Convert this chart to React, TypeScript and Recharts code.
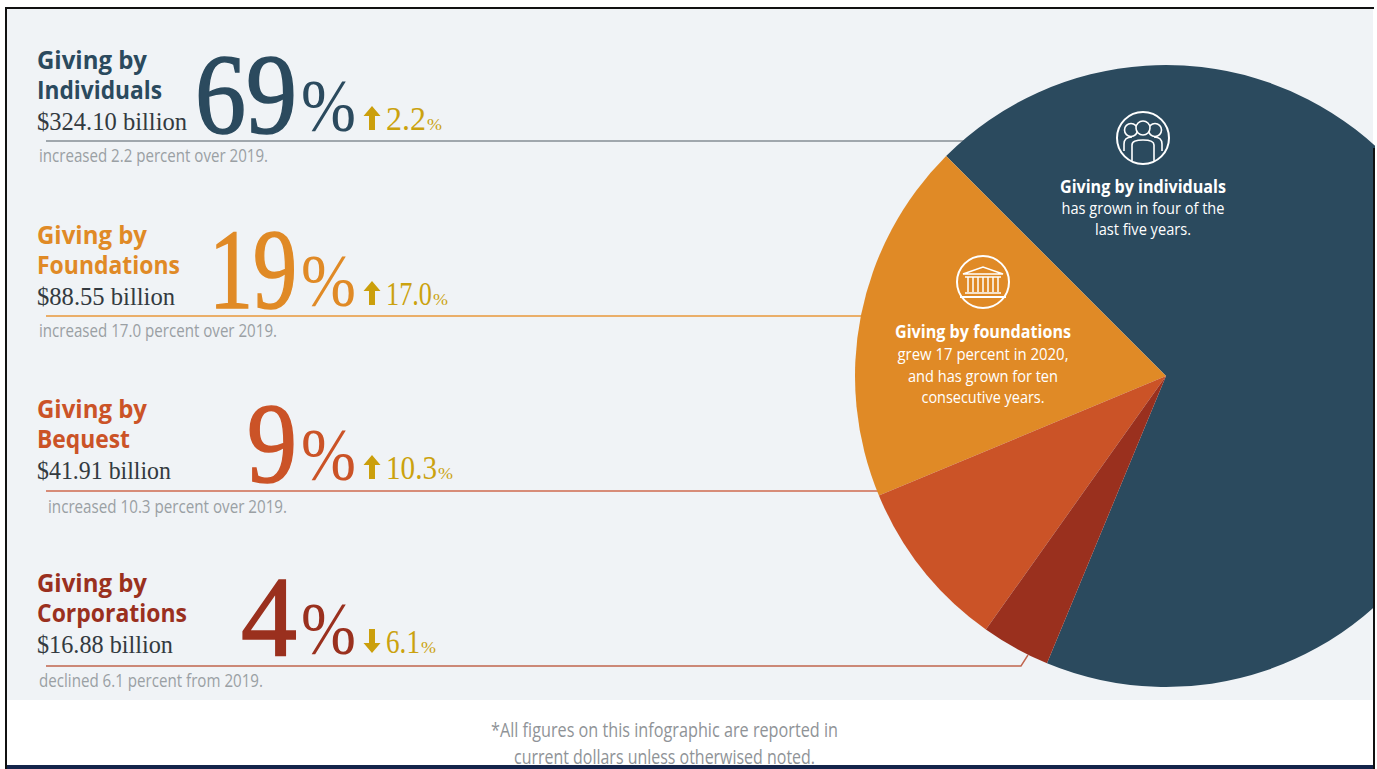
import React from "react";
import { PieChart, Pie, Cell } from "recharts";

// Giving by source, 2020
const sources = ["Individuals", "Foundations", "Bequest", "Corporations"];
const billions = [324.1, 88.55, 41.91, 16.88];
const amountLabels = ["$324.10 billion", "$88.55 billion", "$41.91 billion", "$16.88 billion"];
const shareLabels = ["69", "19", "9", "4"];
const changeLabels = ["2.2", "17.0", "10.3", "6.1"];
const changeUp = [true, true, true, false];
const notes = [
  "increased 2.2 percent over 2019.",
  "increased 17.0 percent over 2019.",
  "increased 10.3 percent over 2019.",
  "declined 6.1 percent from 2019.",
];
const individualsCallout = ["Giving by individuals", "has grown in four of the", "last five years."];
const foundationsCallout = ["Giving by foundations", "grew 17 percent in 2020,", "and has grown for ten", "consecutive years."];
const footnote = ["*All figures on this infographic are reported in", "current dollars unless otherwised noted."];

const W = 1377;
const H = 769;
const colors = ["#2b4a5e", "#e08a26", "#cb5327", "#9a301e"];
const ruleColors = ["#868e94", "#e8973a", "#cf6a4e", "#c0654e"];
const GOLD = "#cba20e";
const SANS = "'Open Sans', sans-serif";
const SERIF = "'Liberation Serif', serif";

const rows = [
  { y: 69, ruleY: 141, ruleEnd: 965, nameW: 125, amtW: 150, bigX: 195, bigW: 102, chgW: 40, noteX: 39, noteW: 229, noteY: 162 },
  { y: 244, ruleY: 316, ruleEnd: 870, nameW: 143, amtW: 138, bigX: 209, bigW: 88, chgW: 46, noteX: 39, noteW: 238, noteY: 337 },
  { y: 418, ruleY: 491, ruleEnd: 880, nameW: 93, amtW: 134, bigX: 247, bigW: 50, chgW: 51, noteX: 48, noteW: 239, noteY: 513 },
  { y: 592, ruleY: 666, ruleEnd: 1021, nameW: 150, amtW: 136, bigX: 241, bigW: 56, chgW: 34, noteX: 39, noteW: 224, noteY: 687 },
];

const pieRows = sources.map((name, i) => ({ name, value: billions[i] }));

function Fit(props: any) {
  const { w, children, ...rest } = props;
  return (
    <text textLength={w} lengthAdjust="spacingAndGlyphs" {...rest}>
      {children}
    </text>
  );
}

function Arrow({ up }: { up: boolean }) {
  // Drawn around the origin, pointing up; flipped for a decline.
  return (
    <g transform={up ? undefined : "scale(1,-1)"}>
      <path d="M0,-12 L8.5,-2 L3,-2 L3,12 L-3,12 L-3,-2 L-8.5,-2 Z" fill="#cb9f0c" />
    </g>
  );
}

function Row({ i }: { i: number }) {
  const r = rows[i];
  const c = colors[i];
  const base = r.y + 61;
  return (
    <g>
      <Fit x={37} y={r.y} w={110} fontFamily={SANS} fontWeight={700} fontSize={25} fill={c}>Giving by</Fit>
      <Fit x={37} y={r.y + 30} w={r.nameW} fontFamily={SANS} fontWeight={700} fontSize={25} fill={c}>{sources[i]}</Fit>
      <Fit x={37} y={base} w={r.amtW} fontFamily={SERIF} fontSize={26} fill="#333a40">{amountLabels[i]}</Fit>
      <Fit x={r.bigX} y={base + 3} w={r.bigW} fontFamily={SERIF} fontSize={115} fill={c} stroke={c} strokeWidth={1.6}>{shareLabels[i]}</Fit>
      <Fit x={301} y={base + 1} w={55} fontFamily={SERIF} fontSize={74} fill={c}>%</Fit>
      <g transform={`translate(372,${base - 12})`}><Arrow up={changeUp[i]} /></g>
      <Fit x={386} y={base} w={r.chgW} fontFamily={SERIF} fontSize={34} fill={GOLD}>{changeLabels[i]}</Fit>
      <Fit x={387 + r.chgW} y={base} w={15} fontFamily={SERIF} fontSize={17} fill={GOLD}>%</Fit>
      <Fit x={r.noteX} y={r.noteY} w={r.noteW} fontFamily={SANS} fontSize={19} fill="#9aa0a4">{notes[i]}</Fit>
    </g>
  );
}

function PeopleIcon() {
  return (
    <g transform="translate(1143,138)" fill="none" stroke="#fff" strokeWidth={1.6}>
      <circle r={26} strokeWidth={2} />
      <circle cx={-12} cy={-8} r={6.5} />
      <circle cx={12} cy={-8} r={6.5} />
      <path d="M-19,13 V6 Q-19,-1 -11,-1 M19,13 V6 Q19,-1 11,-1" />
      <path d="M-11,23 V7 Q-11,2 0,2 Q11,2 11,7 V23" fill="#2b4a5e" />
      <circle cy={-10} r={7} fill="#2b4a5e" />
    </g>
  );
}

function TempleIcon() {
  const columns = [-15, -10, -5, 0, 5, 10, 15];
  return (
    <g transform="translate(983,282)" fill="none" stroke="#fff">
      <circle r={26} strokeWidth={2} />
      <path d="M-20,-8 L0,-15 L20,-8 Z" strokeWidth={1.6} />
      {columns.map((x) => (
        <line key={x} x1={x} x2={x} y1={-5} y2={10} strokeWidth={1.5} />
      ))}
      <line x1={-18} x2={18} y1={-5} y2={-5} strokeWidth={1.6} />
      <line x1={-18} x2={18} y1={11} y2={11} strokeWidth={1.6} />
      <line x1={-23} x2={23} y1={15} y2={15} strokeWidth={1.8} />
    </g>
  );
}

const layer: React.CSSProperties = { position: "absolute", left: 0, top: 0, pointerEvents: "none" };

export default function App() {
  return (
    <div style={{ position: "absolute", left: 0, top: 0, width: W, height: H, background: "#fff", overflow: "hidden" }}>
      <div style={{ position: "absolute", left: 7, top: 9, width: 1366, height: 691, background: "#f0f3f6" }} />

      <svg width={W} height={H} style={layer}>
        {rows.map((r, i) => (
          <polyline
            key={i}
            points={i === 3 ? `46,${r.ruleY} ${r.ruleEnd},${r.ruleY} 1028,655` : `46,${r.ruleY} ${r.ruleEnd},${r.ruleY}`}
            fill="none"
            stroke={ruleColors[i]}
            strokeWidth={1.4}
          />
        ))}
      </svg>

      <div style={layer}>
        <PieChart width={W} height={H} margin={{ top: 0, right: 0, bottom: 0, left: 0 }}>
          <Pie
            data={pieRows}
            dataKey="value"
            nameKey="name"
            cx={1166}
            cy={376}
            innerRadius={0}
            outerRadius={311}
            startAngle={247.5}
            endAngle={607.5}
            stroke="none"
            isAnimationActive={false}
            label={false}
            labelLine={false}
          >
            {pieRows.map((d, i) => (
              <Cell key={d.name} fill={colors[i]} />
            ))}
          </Pie>
        </PieChart>
      </div>

      <svg width={W} height={H} style={layer}>
        {rows.map((_, i) => (
          <Row key={i} i={i} />
        ))}
        <PeopleIcon />
        <TempleIcon />
        <Fit x={1143} y={193} w={166} textAnchor="middle" fontFamily={SANS} fontWeight={700} fontSize={17} fill="#fff">{individualsCallout[0]}</Fit>
        <Fit x={1143} y={214} w={163} textAnchor="middle" fontFamily={SANS} fontSize={17} fill="#fff">{individualsCallout[1]}</Fit>
        <Fit x={1143} y={235} w={96} textAnchor="middle" fontFamily={SANS} fontSize={17} fill="#fff">{individualsCallout[2]}</Fit>
        <Fit x={983} y={338} w={176} textAnchor="middle" fontFamily={SANS} fontWeight={700} fontSize={17} fill="#fff">{foundationsCallout[0]}</Fit>
        <Fit x={983} y={360} w={171} textAnchor="middle" fontFamily={SANS} fontSize={17} fill="#fff">{foundationsCallout[1]}</Fit>
        <Fit x={983} y={382} w={150} textAnchor="middle" fontFamily={SANS} fontSize={17} fill="#fff">{foundationsCallout[2]}</Fit>
        <Fit x={983} y={403} w={123} textAnchor="middle" fontFamily={SANS} fontSize={17} fill="#fff">{foundationsCallout[3]}</Fit>

        <Fit x={664.5} y={737} w={347} textAnchor="middle" fontFamily={SANS} fontSize={20} fill="#8f9397">{footnote[0]}</Fit>
        <Fit x={664.5} y={764} w={301} textAnchor="middle" fontFamily={SANS} fontSize={20} fill="#8f9397">{footnote[1]}</Fit>

        {/* Frame around the panel, with the dark strip along the foot */}
        <rect x={1375} y={0} width={2} height={H} fill="#fff" />
        <rect x={5} y={7} width={2} height={H - 7} fill="#111" />
        <rect x={5} y={7} width={1369} height={2} fill="#111" />
        <rect x={1373} y={148} width={2} height={H - 148} fill="#111" />
        <rect x={7} y={765} width={1366} height={4} fill="#14244a" />
      </svg>
    </div>
  );
}
